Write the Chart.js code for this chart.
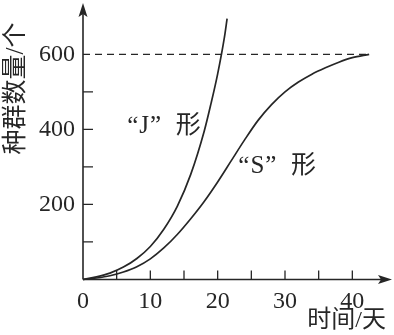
<!DOCTYPE html>
<html>
<head>
<meta charset="utf-8">
<script src="https://cdn.jsdelivr.net/npm/chart.js@4.4.1/dist/chart.umd.min.js"></script>
<style>
  html, body { margin: 0; padding: 0; background: #fff; }
  #wrap { width: 394px; height: 335px; position: relative; }
</style>
</head>
<body>
<div id="wrap"><canvas id="grafico"></canvas></div>
<script>
// dados
const diasJ = [0, 2, 4, 6, 8, 10, 12, 14, 16, 18, 19, 20, 21, 21.4];
const numeroJ = [0, 7, 17, 33, 56, 88, 134, 195, 280, 395, 468, 548, 645, 695];

const diasS = [0, 2, 4, 6, 8, 10, 12, 14, 16, 18, 20, 22, 24, 26, 28, 30, 32, 34, 36, 38, 40, 42.5];
const numeroS = [0, 4, 10, 20, 34, 55, 84, 120, 162, 208, 260, 316, 372, 424, 466, 500, 526, 547, 564, 579, 591, 600];

const capacidadeK = 600;
const fimK = 42.5;

const ticksX = [5, 10, 15, 20, 25, 30, 35, 40];
const rotulosX = [0, 10, 20, 30, 40];
const ticksY = [100, 200, 300, 400, 500];
const rotulosY = [200, 400, 600];

const rotuloJ = '\u201cJ\u201d\u2002形';
const rotuloS = '\u201cS\u201d\u2002形';
const tituloX = '时间/天';
const tituloY = '种群数量/个';

const tinta = '#262626';
const fonteNum = '"Liberation Serif", "Times New Roman", serif';
const fonteCJK = '"Liberation Serif", "Noto Sans CJK SC", serif';

function pontos(xs, ys) {
    return xs.map((v, i) => ({ x: v, y: ys[i] }));
}

// eixos com setas, marcas internas, título vertical e rótulos das curvas
const eixosPlugin = {
    id: 'eixos',
    afterDatasetsDraw(chart) {
        const { ctx, scales: { x, y } } = chart;
        const x0 = x.getPixelForValue(0);
        const y0 = y.getPixelForValue(0);
        const topo = 3;
        const direita = 392;

        ctx.save();
        ctx.strokeStyle = tinta;
        ctx.fillStyle = tinta;
        ctx.lineWidth = 1.6;

        ctx.beginPath();
        ctx.moveTo(x0, y0);
        ctx.lineTo(x0, topo + 8);
        ctx.moveTo(x0, y0);
        ctx.lineTo(direita - 8, y0);
        ctx.stroke();

        // seta vertical
        ctx.beginPath();
        ctx.moveTo(x0, topo);
        ctx.lineTo(x0 + 4.5, topo + 14);
        ctx.lineTo(x0, topo + 11);
        ctx.lineTo(x0 - 4.5, topo + 14);
        ctx.closePath();
        ctx.fill();

        // seta horizontal
        ctx.beginPath();
        ctx.moveTo(direita, y0);
        ctx.lineTo(direita - 14, y0 - 4.5);
        ctx.lineTo(direita - 11, y0);
        ctx.lineTo(direita - 14, y0 + 4.5);
        ctx.closePath();
        ctx.fill();

        ctx.lineWidth = 1.3;
        ctx.beginPath();
        ticksX.forEach(v => {
            const px = x.getPixelForValue(v);
            ctx.moveTo(px, y0);
            ctx.lineTo(px, y0 - 9);
        });
        ticksY.forEach(v => {
            const py = y.getPixelForValue(v);
            ctx.moveTo(x0, py);
            ctx.lineTo(x0 + 10, py);
        });
        ctx.stroke();

        ctx.font = '25px ' + fonteCJK;
        ctx.textAlign = 'center';
        ctx.textBaseline = 'middle';

        ctx.save();
        ctx.translate(16, 88.5);
        ctx.rotate(-Math.PI / 2);
        ctx.fillText(tituloY, 0, 0);
        ctx.restore();

        ctx.letterSpacing = '1px';
        ctx.fillText(rotuloJ, x.getPixelForValue(12.1), y.getPixelForValue(408));
        ctx.fillText(rotuloS, x.getPixelForValue(28.9), y.getPixelForValue(300));
        ctx.restore();
    }
};

new Chart(document.getElementById('grafico').getContext('2d'), {
    type: 'line',
    data: {
        datasets: [
            {
                data: pontos(diasJ, numeroJ),
                borderColor: tinta,
                borderWidth: 1.7,
                pointRadius: 0,
                cubicInterpolationMode: 'monotone'
            },
            {
                data: pontos(diasS, numeroS),
                borderColor: tinta,
                borderWidth: 1.7,
                pointRadius: 0,
                cubicInterpolationMode: 'monotone'
            },
            {
                data: [{ x: 0, y: capacidadeK }, { x: fimK, y: capacidadeK }],
                borderColor: tinta,
                borderWidth: 1.3,
                borderDash: [7, 5],
                pointRadius: 0
            }
        ]
    },
    options: {
        responsive: true,
        maintainAspectRatio: false,
        animation: false,
        clip: false,
        layout: { padding: { top: 10, right: 7, left: 0, bottom: 0 } },
        plugins: {
            legend: { display: false },
            tooltip: { enabled: false }
        },
        scales: {
            x: {
                type: 'linear',
                min: 0,
                max: 45,
                grid: { display: false, drawTicks: false },
                border: { display: false },
                ticks: {
                    stepSize: 5,
                    padding: 8,
                    color: tinta,
                    font: { family: fonteNum, size: 24 },
                    maxRotation: 0,
                    autoSkip: false,
                    callback: v => rotulosX.includes(v) ? String(v) : ''
                },
                title: {
                    display: true,
                    text: tituloX,
                    align: 'end',
                    color: tinta,
                    font: { family: fonteCJK, size: 24 },
                    padding: { top: -4, bottom: 0 }
                },
                afterFit: s => { s.height = 55.5; }
            },
            y: {
                min: 0,
                max: 685,
                grid: { display: false, drawTicks: false },
                border: { display: false },
                ticks: {
                    stepSize: 100,
                    padding: 8,
                    color: tinta,
                    font: { family: fonteNum, size: 24 },
                    autoSkip: false,
                    callback: v => rotulosY.includes(v) ? String(v) : ''
                },
                afterFit: s => { s.width = 83; }
            }
        }
    },
    plugins: [eixosPlugin]
});
</script>
</body>
</html>
